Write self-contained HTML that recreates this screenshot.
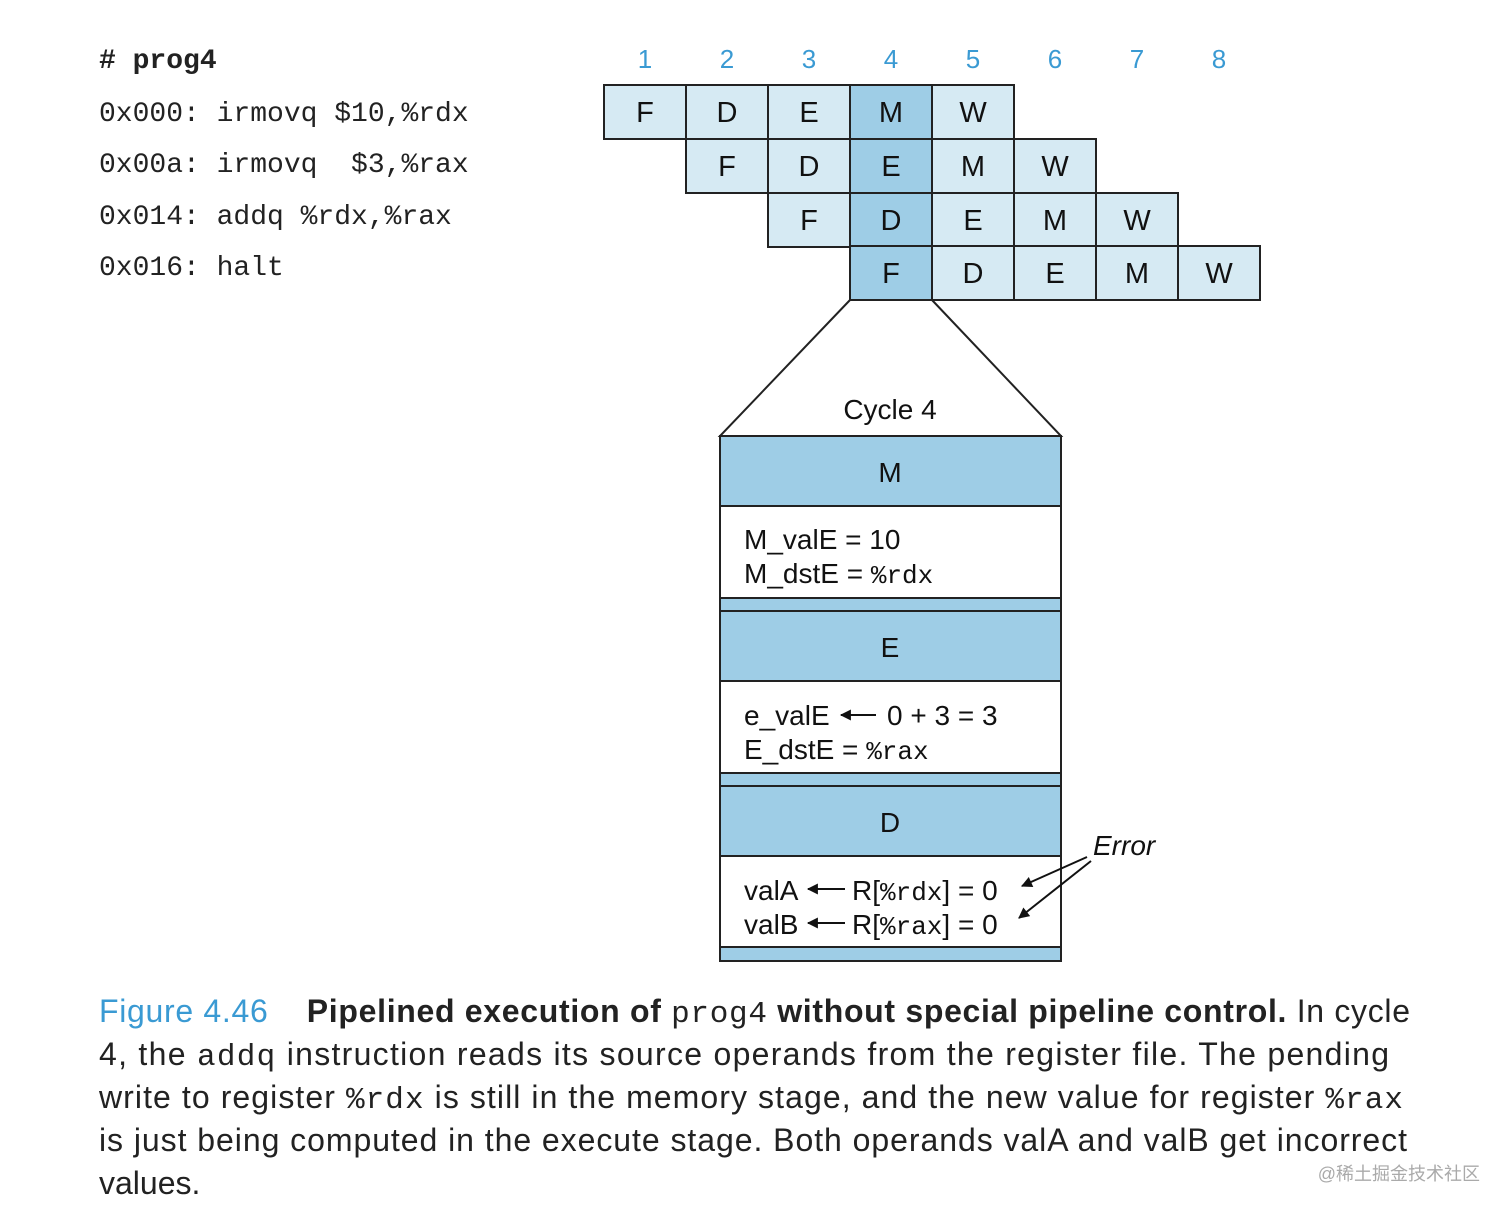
<!DOCTYPE html>
<html><head><meta charset="utf-8"><style>
html,body{margin:0;padding:0;background:#fff;width:1512px;height:1214px;overflow:hidden}
svg{display:block}
.s{font-family:"Liberation Sans",sans-serif}
.m{font-family:"Liberation Mono",monospace}
</style></head><body>
<svg width="1512" height="1214" viewBox="0 0 1512 1214">
<defs>
<marker id="ah" viewBox="0 0 10 10" refX="9" refY="5" markerWidth="12" markerHeight="11" orient="auto-start-reverse" markerUnits="userSpaceOnUse"><path d="M0,0 L10,5 L0,10 z" fill="#111"/></marker>
</defs>
<!-- code -->
<g class="m" font-size="28" fill="#222">
<text x="99" y="68" font-weight="bold"># prog4</text>
<text x="99" y="121">0x000: irmovq $10,%rdx</text>
<text x="99" y="172">0x00a: irmovq &#160;$3,%rax</text>
<text x="99" y="224">0x014: addq %rdx,%rax</text>
<text x="99" y="275">0x016: halt</text>
</g>
<!-- cycle numbers -->
<g class="s" font-size="26" fill="#3a9ad3" text-anchor="middle">
<text x="645" y="68">1</text><text x="727" y="68">2</text><text x="809" y="68">3</text><text x="891" y="68">4</text>
<text x="973" y="68">5</text><text x="1055" y="68">6</text><text x="1137" y="68">7</text><text x="1219" y="68">8</text>
</g>
<!-- grid -->
<g stroke="#222" stroke-width="2">
<rect x="604" y="85" width="246" height="54" fill="#d6eaf3"/>
<rect x="932" y="85" width="82" height="54" fill="#d6eaf3"/>
<rect x="686" y="139" width="164" height="54" fill="#d6eaf3"/>
<rect x="932" y="139" width="164" height="54" fill="#d6eaf3"/>
<rect x="768" y="193" width="82" height="54" fill="#d6eaf3"/>
<rect x="932" y="193" width="246" height="54" fill="#d6eaf3"/>
<rect x="932" y="246" width="328" height="54" fill="#d6eaf3"/>
<rect x="850" y="85" width="82" height="215" fill="#9ecde6"/>
<line x1="686" y1="85" x2="686" y2="193"/><line x1="768" y1="85" x2="768" y2="247"/>
<line x1="850" y1="139" x2="932" y2="139"/><line x1="850" y1="193" x2="932" y2="193"/><line x1="850" y1="246" x2="932" y2="246"/>
<line x1="1014" y1="139" x2="1014" y2="300"/><line x1="1096" y1="193" x2="1096" y2="300"/><line x1="1178" y1="246" x2="1178" y2="300"/>
</g>
<g class="s" font-size="29" fill="#111" text-anchor="middle">
<text x="645" y="122">F</text><text x="727" y="122">D</text><text x="809" y="122">E</text><text x="891" y="122">M</text><text x="973" y="122">W</text>
<text x="727" y="176">F</text><text x="809" y="176">D</text><text x="891" y="176">E</text><text x="973" y="176">M</text><text x="1055" y="176">W</text>
<text x="809" y="230">F</text><text x="891" y="230">D</text><text x="973" y="230">E</text><text x="1055" y="230">M</text><text x="1137" y="230">W</text>
<text x="891" y="283">F</text><text x="973" y="283">D</text><text x="1055" y="283">E</text><text x="1137" y="283">M</text><text x="1219" y="283">W</text>
</g>
<!-- trapezoid -->
<g stroke="#222" stroke-width="2" fill="none">
<polyline points="850,300 720,436 1061,436 932,300"/>
</g>
<text class="s" x="890" y="419" font-size="28" text-anchor="middle" fill="#111">Cycle 4</text>
<!-- cycle box -->
<g stroke="#222" stroke-width="2">
<rect x="720" y="436" width="341" height="525" fill="#9ecde6"/>
<rect x="720" y="506" width="341" height="92" fill="#fff"/>
<rect x="720" y="681" width="341" height="92" fill="#fff"/>
<rect x="720" y="856" width="341" height="91" fill="#fff"/>
<line x1="720" y1="611" x2="1061" y2="611"/>
<line x1="720" y1="786" x2="1061" y2="786"/>
</g>
<g class="s" font-size="28" fill="#111">
<text x="890" y="482" text-anchor="middle">M</text>
<text x="890" y="657" text-anchor="middle">E</text>
<text x="890" y="832" text-anchor="middle">D</text>
<text x="744" y="549">M_valE = 10</text>
<text x="744" y="583">M_dstE = <tspan class="m" font-size="26">%rdx</tspan></text>
<text x="744" y="725">e_valE</text>
<text x="887" y="725">0 + 3 = 3</text>
<text x="744" y="759">E_dstE = <tspan class="m" font-size="26">%rax</tspan></text>
<text x="744" y="900">valA</text>
<text x="852" y="900">R[<tspan class="m" font-size="26">%rdx</tspan>] = 0</text>
<text x="744" y="934">valB</text>
<text x="852" y="934">R[<tspan class="m" font-size="26">%rax</tspan>] = 0</text>
<text x="1093" y="855" font-style="italic">Error</text>
</g>
<g stroke="#111" stroke-width="2" fill="none">
<line x1="876" y1="715" x2="841" y2="715" marker-end="url(#ah)"/>
<line x1="845" y1="889" x2="808" y2="889" marker-end="url(#ah)"/>
<line x1="845" y1="923" x2="808" y2="923" marker-end="url(#ah)"/>
<line x1="1087" y1="857" x2="1022" y2="886" marker-end="url(#ah)"/>
<line x1="1091" y1="861" x2="1019" y2="918" marker-end="url(#ah)"/>
</g>
<!-- caption -->
<g class="s" font-size="32" fill="#222">
<text x="99" y="1022" textLength="1311" lengthAdjust="spacing"><tspan fill="#3a9ad3">Figure 4.46</tspan>&#160;&#160;&#160;&#160;<tspan font-weight="bold">Pipelined execution of </tspan><tspan class="m" font-size="31">prog4</tspan><tspan font-weight="bold"> without special pipeline control.</tspan> In cycle</text>
<text x="99" y="1065" textLength="1290" lengthAdjust="spacing">4, the <tspan class="m" font-size="31">addq</tspan> instruction reads its source operands from the register file. The pending</text>
<text x="99" y="1108" textLength="1304" lengthAdjust="spacing">write to register <tspan class="m" font-size="31">%rdx</tspan> is still in the memory stage, and the new value for register <tspan class="m" font-size="31">%rax</tspan></text>
<text x="99" y="1151" textLength="1308" lengthAdjust="spacing">is just being computed in the execute stage. Both operands valA and valB get incorrect</text>
<text x="99" y="1194">values.</text>
</g>
<text x="1480" y="1180" text-anchor="end" font-size="18" fill="#aaa" font-family="'Liberation Sans','Noto Sans CJK SC',sans-serif">@稀土掘金技术社区</text>
</svg>
</body></html>
